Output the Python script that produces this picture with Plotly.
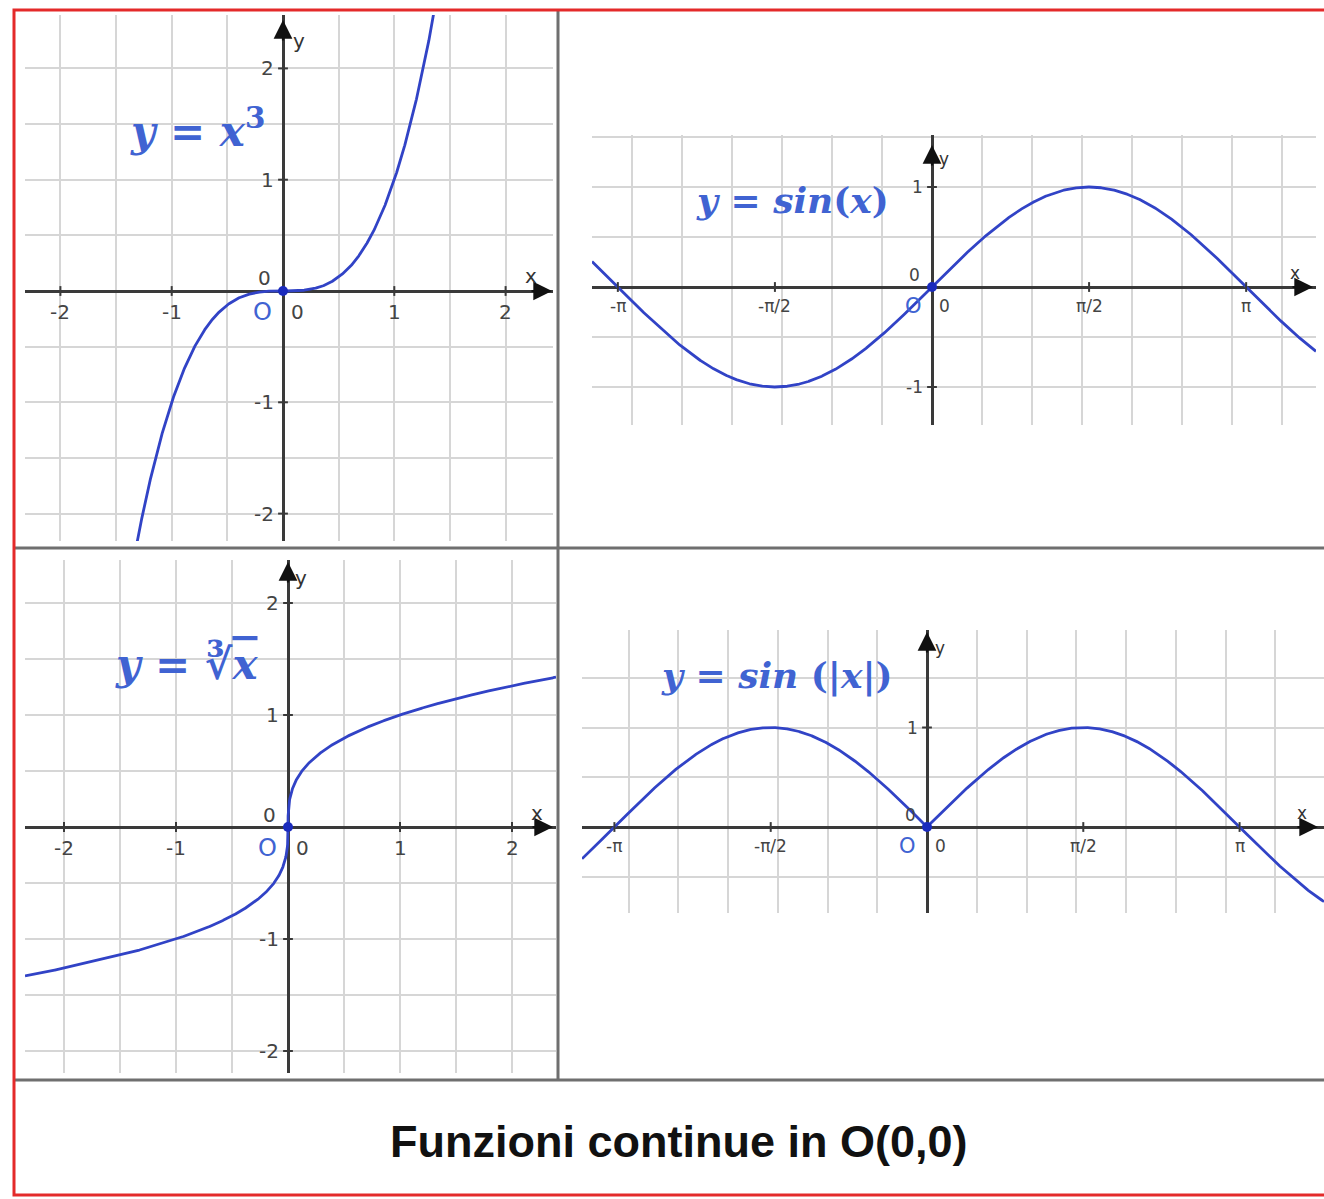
import numpy as np
import plotly.graph_objects as go

W, H = 1324, 1199

# ---------------- data: ticks / labels / texts ----------------
int_ticks = [-2, -1, 1, 2]
int_labels = ["-2", "-1", "1", "2"]
pi_ticks = [-np.pi, -np.pi / 2, np.pi / 2, np.pi]
pi_labels = ["-π", "-π/2", "π/2", "π"]
sin_y_ticks = [-1, 1]
sin_y_labels = ["-1", "1"]
sinabs_y_ticks = [1]
sinabs_y_labels = ["1"]

formula_cube = "<i>y</i> = <i>x</i><sup>3</sup>"
formula_sin = "<i>y</i> = <i>sin</i>(<i>x</i>)"
formula_cbrt = "<i>y</i> = ∛<span style='text-decoration:overline'><i>x</i></span>"
formula_sinabs = "<i>y</i> = <i>sin</i> (|<i>x</i>|)"
title_text = "Funzioni continue in O(0,0)"

# the four plotted functions
funcs = [
    lambda x: x ** 3,
    np.sin,
    np.cbrt,
    lambda x: np.sin(np.abs(x)),
]

# ---------------- styling ----------------
CURVE = "#3143c6"
TXTBLUE = "#4063d2"
DOT = "#1b2bbd"
AXIS = "#3a3a3a"
GRID = "#d6d6d6"
LABEL = "#444444"
RED = "#e42a2a"
SEP = "#6f6f6f"

# panel geometry in pixels (origin, unit, grid box)
panels = [
    dict(ox=283, oy=291, u=111.3, L=25, R=553, T=15, B=541,
         xt=int_ticks, xl=int_labels, yt=int_ticks, yl=int_labels,
         fs=20, dy=21, formula=formula_cube, fpos=(197, 128), fsize=42,
         tip=(552, 20), xlab=(531, 276), ylab=(299, 41),
         zx=(14, -21), zy=(-19, 13), o=(-21, -21)),
    dict(ox=932, oy=287, u=100, L=592, R=1316, T=135, B=425,
         xt=pi_ticks, xl=pi_labels, yt=sin_y_ticks, yl=sin_y_labels,
         fs=17, dy=19, formula=formula_sin, fpos=(792, 200), fsize=36,
         tip=(1313, 145), xlab=(1295, 273), ylab=(944, 159),
         zx=(12, -19), zy=(-18, 12), o=(-19, -19)),
    dict(ox=288, oy=827, u=112, L=25, R=556, T=560, B=1073,
         xt=int_ticks, xl=int_labels, yt=int_ticks, yl=int_labels,
         fs=20, dy=21, formula=formula_cbrt, fpos=(186, 664), fsize=42,
         tip=(553, 562), xlab=(537, 813), ylab=(301, 578),
         zx=(14, -21), zy=(-19, 12), o=(-21, -21)),
    dict(ox=927, oy=827, u=99.5, L=582, R=1324, T=630, B=913,
         xt=pi_ticks, xl=pi_labels, yt=sinabs_y_ticks, yl=sinabs_y_labels,
         fs=17, dy=19, formula=formula_sinabs, fpos=(777, 675), fsize=36,
         tip=(1318, 632), xlab=(1302, 813), ylab=(940, 648),
         zx=(13, -19), zy=(-17, 12), o=(-20, -19)),
]


def px(p):
    return p / W


def py(p):
    return 1 - p / H


fig = go.Figure()
annotations = []
shapes = []
layout_axes = {}

for i, P in enumerate(panels):
    n = "" if i == 0 else str(i + 1)
    xr = [(P["L"] - P["ox"]) / P["u"], (P["R"] - P["ox"]) / P["u"]]
    yr = [(P["oy"] - P["B"]) / P["u"], (P["oy"] - P["T"]) / P["u"]]
    xref, yref = "x" + n, "y" + n
    common = dict(showgrid=True, gridcolor=GRID, gridwidth=1.6, dtick=0.5, tick0=0,
                  zeroline=True, zerolinecolor=AXIS, zerolinewidth=2.5,
                  showticklabels=False, ticks="", showline=False, fixedrange=True)
    layout_axes["xaxis" + n] = dict(common, domain=[px(P["L"]), px(P["R"])], range=xr,
                                    anchor=yref)
    layout_axes["yaxis" + n] = dict(common, domain=[py(P["B"]), py(P["T"])], range=yr,
                                    anchor=xref)

    # curve
    xs = np.union1d(np.linspace(xr[0], xr[1], 3000), [0.0])
    fig.add_trace(go.Scatter(x=xs, y=funcs[i](xs), mode="lines",
                             line=dict(color=CURVE, width=2.8),
                             xaxis=xref, yaxis=yref, hoverinfo="skip"))
    # axis tick marks
    fig.add_trace(go.Scatter(x=P["xt"], y=[0] * len(P["xt"]), mode="markers",
                             marker=dict(symbol="line-ns-open", size=7, color=AXIS,
                                         line=dict(color=AXIS, width=2)),
                             xaxis=xref, yaxis=yref, hoverinfo="skip"))
    fig.add_trace(go.Scatter(x=[0] * len(P["yt"]), y=P["yt"], mode="markers",
                             marker=dict(symbol="line-ew-open", size=7, color=AXIS,
                                         line=dict(color=AXIS, width=2)),
                             xaxis=xref, yaxis=yref, hoverinfo="skip"))
    # origin dot
    fig.add_trace(go.Scatter(x=[0], y=[0], mode="markers",
                             marker=dict(size=10, color=DOT),
                             xaxis=xref, yaxis=yref, hoverinfo="skip", cliponaxis=False))

    tfont = dict(family="DejaVu Sans", size=P["fs"], color=LABEL)
    base = dict(showarrow=False, xanchor="center", yanchor="middle")
    for t, l in zip(P["xt"], P["xl"]):
        annotations.append(dict(base, x=t, y=0, xref=xref, yref=yref, text=l,
                                yshift=-P["dy"], font=tfont))
    for t, l in zip(P["yt"], P["yl"]):
        annotations.append(dict(base, x=0, y=t, xref=xref, yref=yref, text=l,
                                xanchor="right", xshift=-7, font=tfont))
    # "0" labels and "O"
    annotations.append(dict(base, x=0, y=0, xref=xref, yref=yref, text="0",
                            xshift=P["zx"][0], yshift=P["zx"][1], font=tfont))
    annotations.append(dict(base, x=0, y=0, xref=xref, yref=yref, text="0",
                            xshift=P["zy"][0], yshift=P["zy"][1], font=tfont))
    annotations.append(dict(base, x=0, y=0, xref=xref, yref=yref, text="O",
                            xshift=P["o"][0], yshift=P["o"][1],
                            font=dict(family="DejaVu Sans", size=P["fs"] + 4, color=TXTBLUE)))
    # axis arrows
    xtip = (P["tip"][0] - P["ox"]) / P["u"]
    ytip = (P["oy"] - P["tip"][1]) / P["u"]
    annotations.append(dict(x=xtip, y=0, xref=xref, yref=yref, ax=-22, ay=0, text="",
                            showarrow=True, arrowhead=2, arrowsize=1.7, arrowwidth=2.2,
                            arrowcolor="#111111", standoff=0))
    annotations.append(dict(x=0, y=ytip, xref=xref, yref=yref, ax=0, ay=22, text="",
                            showarrow=True, arrowhead=2, arrowsize=1.7, arrowwidth=2.2,
                            arrowcolor="#111111", standoff=0))
    # axis names
    afont = dict(family="DejaVu Sans", size=P["fs"], color="#333333")
    annotations.append(dict(base, x=px(P["xlab"][0]), y=py(P["xlab"][1]), xref="paper",
                            yref="paper", text="x", font=afont))
    annotations.append(dict(base, x=px(P["ylab"][0]), y=py(P["ylab"][1]), xref="paper",
                            yref="paper", text="y", font=afont))
    # formula
    annotations.append(dict(base, x=px(P["fpos"][0]), y=py(P["fpos"][1]), xref="paper",
                            yref="paper", text=P["formula"],
                            font=dict(family="DejaVu Serif", size=P["fsize"], color=TXTBLUE,
                                      weight="bold")))

# title
annotations.append(dict(x=px(678), y=py(1141), xref="paper", yref="paper", text=title_text,
                        showarrow=False, xanchor="center", yanchor="middle",
                        font=dict(family="Liberation Sans Narrow, Arial Narrow, Liberation Sans",
                                  size=45, color="#111111", weight="bold")))

# panel separators and red frame
shapes += [
    dict(type="line", xref="paper", yref="paper", x0=px(558), x1=px(558), y0=py(10), y1=py(1080),
         line=dict(color=SEP, width=3)),
    dict(type="line", xref="paper", yref="paper", x0=px(14), x1=px(1324), y0=py(548), y1=py(548),
         line=dict(color=SEP, width=3)),
    dict(type="line", xref="paper", yref="paper", x0=px(14), x1=px(1324), y0=py(1080), y1=py(1080),
         line=dict(color=SEP, width=3)),
    dict(type="rect", xref="paper", yref="paper", x0=px(14), x1=px(1330), y0=py(1195), y1=py(10),
         line=dict(color=RED, width=3)),
]

fig.update_layout(
    width=W, height=H, margin=dict(l=0, r=0, t=0, b=0),
    paper_bgcolor="white", plot_bgcolor="white", showlegend=False,
    annotations=annotations, shapes=shapes, **layout_axes,
)

fig.write_html("out.html", config={"displayModeBar": False},
               post_script="document.body.style.margin='0';document.body.style.overflow='hidden';")
